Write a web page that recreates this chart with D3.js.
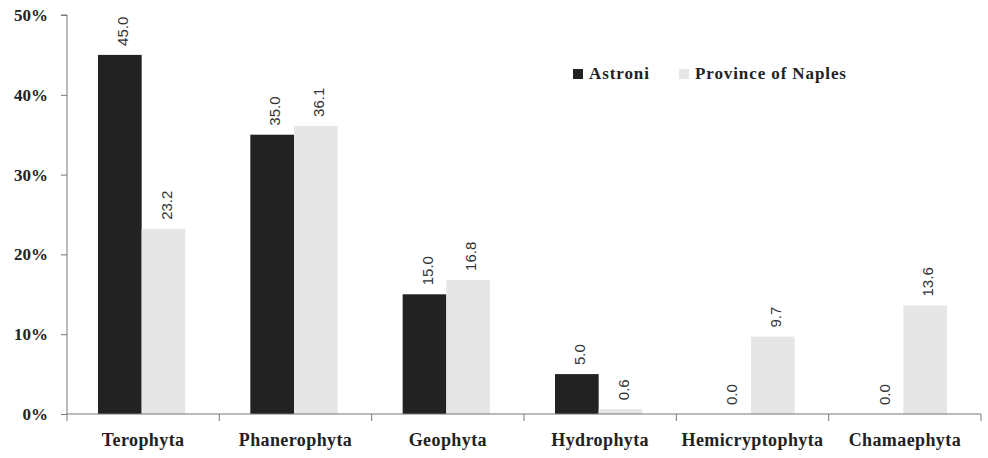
<!DOCTYPE html>
<html>
<head>
<meta charset="utf-8">
<script src="https://cdn.jsdelivr.net/npm/d3@7"></script>
<style>
  body { margin: 0; background: #fff; }
  svg text { font-family: "Liberation Serif", "DejaVu Serif", serif; }
</style>
</head>
<body>
<div id="chart"></div>
<script>
// Dades
const categories = ["Terophyta", "Phanerophyta", "Geophyta", "Hydrophyta", "Hemicryptophyta", "Chamaephyta"];
const series = ["Astroni", "Province of Naples"];
const astroni = [45.0, 35.0, 15.0, 5.0, 0.0, 0.0];
const naples = [23.2, 36.1, 16.8, 0.6, 9.7, 13.6];
const yTicks = [0, 10, 20, 30, 40, 50];
const colors = ["#222222", "#e6e6e6"];

const width = 988, height = 458;
const margin = { top: 15, right: 7, bottom: 44, left: 67 };
const innerW = width - margin.left - margin.right;
const innerH = height - margin.top - margin.bottom;

const svg = d3.select("#chart")
    .append("svg")
        .attr("width", width)
        .attr("height", height)
    .append("g")
        .attr("transform", `translate(${margin.left}, ${margin.top})`);

const x = d3.scaleBand()
    .domain(categories)
    .range([0, innerW])
    .paddingInner(0)
    .paddingOuter(0);

const xSub = d3.scaleBand()
    .domain(series)
    .range([31, x.bandwidth() - 34]);

const y = d3.scaleLinear()
    .domain([0, 50])
    .range([innerH, 0]);

// Barres
const rows = categories.map((c, i) => ({ cat: c, vals: [astroni[i], naples[i]] }));

const groups = svg.selectAll("g.group")
    .data(rows)
    .enter()
    .append("g")
        .attr("class", "group")
        .attr("transform", d => `translate(${x(d.cat)}, 0)`);

groups.selectAll("rect")
    .data(d => d.vals.map((v, j) => ({ s: series[j], v: v, j: j })))
    .enter()
    .append("rect")
        .attr("x", d => xSub(d.s))
        .attr("y", d => y(d.v))
        .attr("width", xSub.bandwidth())
        .attr("height", d => innerH - y(d.v))
        .attr("fill", d => colors[d.j]);

// Etiquetes de valor (rotades)
groups.selectAll("text.val")
    .data(d => d.vals.map((v, j) => ({ s: series[j], v: v })))
    .enter()
    .append("text")
        .attr("class", "val")
        .attr("transform", d => `translate(${xSub(d.s) + xSub.bandwidth() / 2 + 8}, ${y(d.v) - 9}) rotate(-90)`)
        .style("font-family", "'Liberation Sans', Arial, sans-serif")
        .style("font-size", "15px")
        .style("fill", "#333")
        .text(d => d3.format(".1f")(d.v));

// Eix Y
const yAxis = svg.append("g")
    .call(d3.axisLeft(y).tickValues(yTicks).tickSize(6).tickFormat(d => d + "%"));
yAxis.select(".domain").attr("stroke", "#777").attr("d", `M-6,${y(50)}H0V${y(0)}`);
yAxis.selectAll(".tick line").attr("stroke", "#777");
yAxis.selectAll(".tick text")
    .attr("x", -19)
    .style("font-family", "'Liberation Serif', serif")
    .style("font-weight", "bold")
    .style("font-size", "17px")
    .style("fill", "#222");

// Eix X
const xAxis = svg.append("g")
    .attr("transform", `translate(0, ${innerH})`)
    .call(d3.axisBottom(x).tickSize(0).tickPadding(19));
xAxis.select(".domain").attr("stroke", "#777").attr("d", `M0,0H${innerW}`);
xAxis.selectAll(".tick text")
    .style("font-family", "'Liberation Serif', serif")
    .style("font-weight", "bold")
    .style("font-size", "18px")
    .style("letter-spacing", "0.4px")
    .style("fill", "#222");

// Separadors entre categories
svg.selectAll("line.sep")
    .data(categories.concat(["end"]))
    .enter()
    .append("line")
        .attr("class", "sep")
        .attr("x1", (d, i) => i * x.bandwidth())
        .attr("x2", (d, i) => i * x.bandwidth())
        .attr("y1", innerH)
        .attr("y2", innerH + 7)
        .attr("stroke", "#777");

// Llegenda
const legend = svg.append("g")
    .attr("transform", `translate(${573 - margin.left}, ${69 - margin.top})`);
const legX = [0, 106];
series.forEach((s, i) => {
    const g = legend.append("g").attr("transform", `translate(${legX[i]}, 0)`);
    g.append("rect")
        .attr("width", 10)
        .attr("height", 10)
        .attr("fill", colors[i]);
    g.append("text")
        .attr("x", 16)
        .attr("y", 10)
        .style("font-weight", "bold")
        .style("font-size", "17px")
        .style("letter-spacing", "0.9px")
        .style("fill", "#222")
        .text(s);
});
</script>
</body>
</html>
